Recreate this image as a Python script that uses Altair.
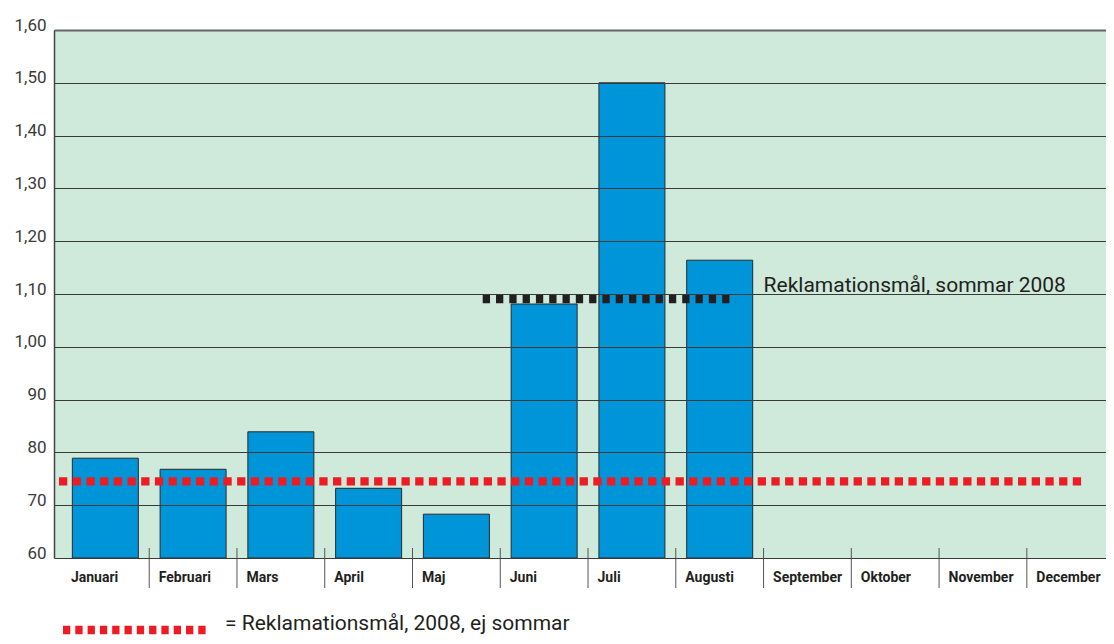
import altair as alt
import pandas as pd

# ---- data ----
months = ["Januari", "Februari", "Mars", "April", "Maj", "Juni", "Juli",
          "Augusti", "September", "Oktober", "November", "December"]
month_values = [0.789, 0.768, 0.839, 0.732, 0.683, 1.081, 1.500, 1.164]
y_ticks = [0.6, 0.7, 0.8, 0.9, 1.0, 1.1, 1.2, 1.3, 1.4, 1.5, 1.6]
y_tick_labels = ["60", "70", "80", "90", "1,00", "1,10", "1,20", "1,30",
                 "1,40", "1,50", "1,60"]
target_all_year = 0.745
all_year_span = [-0.028, 11.66]      # in month units
target_summer = 1.091
summer_span = [4.8, 7.68]            # in month units
annotation_text = ["Reklamationsmål, sommar 2008"]
annotation_pos = [8.0]
annotation_value = [1.10]
legend_text = ["= Reklamationsmål, 2008, ej sommar"]

X_DOMAIN = [-0.028, 11.845]
Y_DOMAIN = [0.6, 1.6]
W, H = 1052, 528

FONT = "Roboto, Liberation Sans, sans-serif"

bars_df = pd.DataFrame({
    "month": months[:len(month_values)],
    "pos": [i + 0.5 for i in range(len(month_values))],
    "value": month_values,
})
sep_df = pd.DataFrame({"b": list(range(1, len(months)))})
red_df = pd.DataFrame({"x": [all_year_span[0]], "x2": [all_year_span[1]], "y": [target_all_year]})
blk_df = pd.DataFrame({"x": [summer_span[0]], "x2": [summer_span[1]], "y": [target_summer]})
ann_df = pd.DataFrame({"x": annotation_pos, "y": annotation_value, "t": annotation_text})
leg_df = pd.DataFrame({"t": legend_text})

xs = alt.Scale(domain=X_DOMAIN, nice=False, zero=False)
ys = alt.Scale(domain=Y_DOMAIN, nice=False, zero=False)

month_js = "[" + ",".join("'" + m + "'" for m in months) + "]"
ylab_js = "[" + ",".join("'" + s + "'" for s in y_tick_labels) + "]"

x_axis = alt.Axis(
    values=list(range(len(months))),
    labelExpr=month_js + "[round(datum.value)]",
    labelAlign="left", labelOffset=9, labelPadding=12, labelBaseline="top",
    labelFlush=False, labelOverlap=False, labelBound=False,
    labelFont=FONT, labelFontWeight="bold", labelFontSize=14, labelColor="#231f20",
    ticks=False, domain=False, grid=False, title=None,
)
y_axis = alt.Axis(
    values=y_ticks,
    labelExpr=ylab_js + "[round((datum.value - 0.6) * 10)]",
    labelBaseline="alphabetic", labelPadding=8, labelFont=FONT,
    labelFontSize=17, labelColor="#3a3a3a",
    ticks=False, domain=True, domainColor="#444444", domainWidth=1.5,
    grid=True,
    gridColor={"condition": {"test": "datum.value > 1.55", "value": "#666666"}, "value": "#3a3a3a"},
    gridWidth={"condition": {"test": "datum.value > 1.55", "value": 2}, "value": 1},
    zindex=1, title=None,
)

bars = alt.Chart(bars_df).mark_bar(
    size=66, color="#0095d8", stroke="#2a2a2a", strokeWidth=1
).encode(
    x=alt.X("pos:Q", scale=xs, axis=x_axis, title=None),
    y=alt.Y("value:Q", scale=ys, axis=y_axis, title=None),
    y2=alt.datum(Y_DOMAIN[0]),
)

seps = alt.Chart(sep_df).mark_rule(color="#555555", strokeWidth=1).encode(
    x=alt.X("b:Q", scale=xs, title=None),
    y=alt.value(H - 10),
    y2=alt.value(H + 30),
)

red = alt.Chart(red_df).mark_rule(
    color="#ed1c24", strokeWidth=8.3, strokeDash=[8.3, 5.4], strokeCap="butt"
).encode(
    x=alt.X("x:Q", scale=xs, title=None),
    x2="x2:Q",
    y=alt.Y("y:Q", scale=ys, title=None),
)

blk = alt.Chart(blk_df).mark_rule(
    color="#231f20", strokeWidth=9, strokeDash=[7.3, 6], strokeCap="butt"
).encode(
    x=alt.X("x:Q", scale=xs, title=None),
    x2="x2:Q",
    y=alt.Y("y:Q", scale=ys, title=None),
)

ann = alt.Chart(ann_df).mark_text(
    align="left", baseline="alphabetic", dy=-2, font=FONT, fontSize=21,
    color="#231f20"
).encode(
    x=alt.X("x:Q", scale=xs, title=None),
    y=alt.Y("y:Q", scale=ys, title=None),
    text="t:N",
)

leg_line = alt.Chart(leg_df).mark_rule(
    color="#ed1c24", strokeWidth=8.3, strokeDash=[7.3, 5], strokeCap="butt"
).encode(
    x=alt.value(9), x2=alt.value(152), y=alt.value(H + 72),
)
leg_text = alt.Chart(leg_df).mark_text(
    align="left", baseline="alphabetic", font=FONT, fontSize=21, color="#231f20"
).encode(
    x=alt.value(171), y=alt.value(H + 72), text="t:N",
)

chart = alt.layer(bars, seps, blk, red, ann, leg_line, leg_text).properties(
    width=W, height=H,
    autosize=alt.AutoSizeParams(type="none"),
    padding={"left": 46, "top": 22, "right": 0, "bottom": 77},
).configure_view(fill="#cfe9db", stroke="transparent")

chart.save("out.html", embed_options={"renderer": "svg", "actions": False})
